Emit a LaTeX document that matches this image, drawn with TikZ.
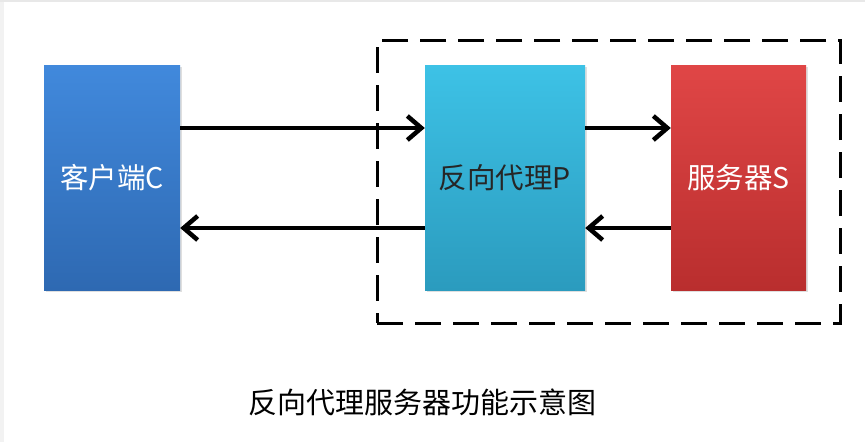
\documentclass[tikz,border=0pt]{standalone}
\usepackage{fontspec}
\setmainfont{Noto Sans CJK SC}
\usetikzlibrary{arrows.meta,shadows}
\definecolor{cTop}{HTML}{4189DC}
\definecolor{cBot}{HTML}{2E69B2}
\definecolor{pTop}{HTML}{3DC2E6}
\definecolor{pBot}{HTML}{2B9BBE}
\definecolor{sTop}{HTML}{E04646}
\definecolor{sBot}{HTML}{B92E2E}
\tikzset{
  box/.style={rectangle, inner sep=0pt, minimum height=225pt,
    font=\fontsize{28.5pt}{32pt}\selectfont,
    drop shadow={opacity=0.25, shadow xshift=2pt, shadow yshift=-2pt}},
  arr/.style={line width=4.5pt, -{Straight Barb[length=14pt,width=24pt,line width=4.5pt]}},
  grpbox/.style={draw, line width=3pt, dash pattern=on 26pt off 12pt, inner sep=0pt},
  capt/.style={font=\fontsize{29pt}{33pt}\selectfont, text=black}
}
\begin{document}
\begin{tikzpicture}[x=1pt,y=-1pt]
\useasboundingbox (0,0) rectangle (865,442);
\fill[white] (0,0) rectangle (865,442);
\fill[gray!10] (0,0) rectangle (4,442);
\fill[gray!18] (0,0) rectangle (865,1.5);
\node[grpbox, minimum width=463pt, minimum height=283pt] (grp) at (608.5,181.5) {};
\node[box, minimum width=136pt, top color=cTop, bottom color=cBot, text=white] (C) at (112,177.5) {客户端C};
\node[box, minimum width=160pt, top color=pTop, bottom color=pBot, text=black!85] (P) at (505,177.5) {反向代理P};
\node[box, minimum width=135pt, top color=sTop, bottom color=sBot, text=white] (S) at (738.5,177.5) {服务器S};
\draw[arr] ([yshift=49.5pt]C.east) -- ([yshift=49.5pt]P.west);
\draw[arr] ([yshift=49.5pt]P.east) -- ([yshift=49.5pt]S.west);
\draw[arr] ([yshift=-50.5pt]S.west) -- ([yshift=-50.5pt]P.east);
\draw[arr] ([yshift=-50.5pt]P.west) -- ([yshift=-50.5pt]C.east);
\node[capt] (cap) at (422,402) {反向代理服务器功能示意图};
\end{tikzpicture}
\end{document}
